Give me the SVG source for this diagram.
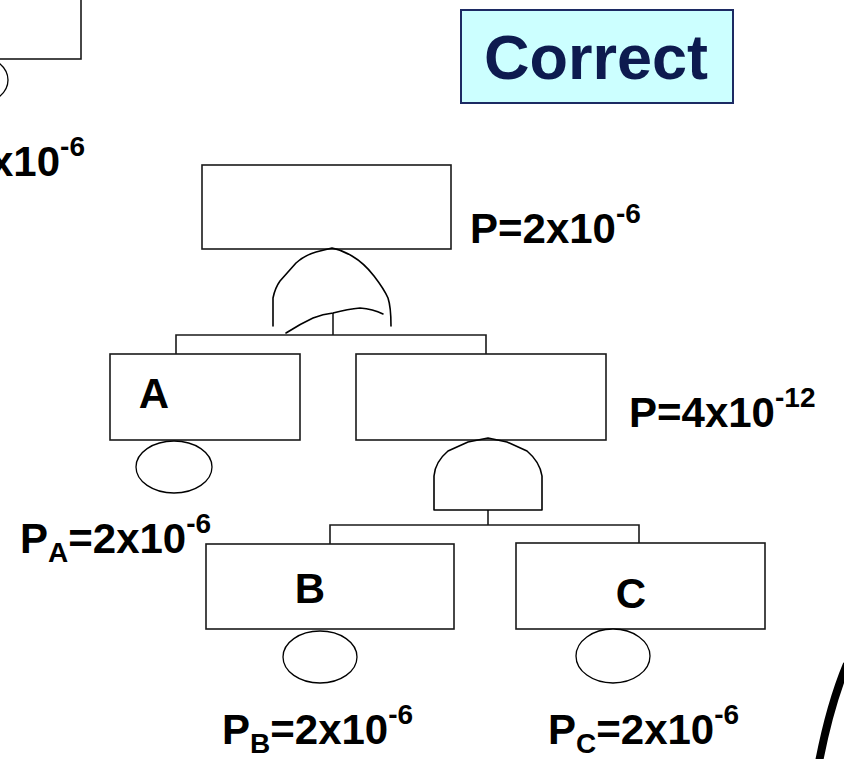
<svg xmlns="http://www.w3.org/2000/svg" width="844" height="759" viewBox="0 0 844 759">
  <style>
    .box { fill: #ffffff; stroke: #1a1a1a; stroke-width: 1.6; }
    .ev { fill: #ffffff; stroke: #000000; stroke-width: 1.3; }
    .gate { fill: none; stroke: #000000; stroke-width: 1.6; stroke-linejoin: round; stroke-linecap: round; }
    .conn { fill: none; stroke: #1a1a1a; stroke-width: 1.6; }
    .lbl { font-family: "Liberation Sans", Arial, sans-serif; font-weight: bold; font-size: 42px; fill: #000000; }
    .sm { font-size: 28px; }
  </style>
  <rect width="844" height="759" fill="#ffffff"/>

  <g id="partial-left">
    <rect class="box" x="-10" y="-10" width="91" height="69"/>
    <ellipse class="ev" cx="-29" cy="80" rx="37" ry="26"/>
    <text class="lbl" x="-10" y="176">x10<tspan class="sm" dy="-20">-6</tspan></text>
  </g>

  <g id="correct">
    <rect x="461" y="10" width="272" height="93" fill="#ccffff" stroke="#1c2a63" stroke-width="2"/>
    <text x="596" y="79" text-anchor="middle" font-family="Liberation Sans, Arial, sans-serif" font-weight="bold" font-size="63" fill="#0d1b4f">Correct</text>
  </g>

  <g id="connectors">
    <polyline class="conn" points="176,354 176,335 486,335 486,354"/>
    <line class="conn" x1="333" y1="313" x2="333" y2="335"/>
    <polyline class="conn" points="330,544 330,525 639,525 639,543"/>
    <line class="conn" x1="488" y1="510" x2="488" y2="525"/>
  </g>

  <g id="top-event">
    <rect class="box" x="202" y="165" width="249" height="84"/>
    <text class="lbl" x="470" y="243">P=2x10<tspan class="sm" dy="-20">-6</tspan></text>
  </g>

  <g id="or-gate">
    <path class="gate" d="M273,326 L273,298 Q275,288 280,281 L296,263 Q305,255 316,252 L332,248 Q342,250 352,256 Q364,263 374,276 Q384,289 388,298 Q391,307 391,326"/>
    <path class="gate" d="M286,333 Q300,324 313,318 Q323,314 333,313 Q348,309 360,308 Q373,309 383,314"/>
  </g>

  <g id="event-a">
    <rect class="box" x="110" y="354" width="190" height="86"/>
    <text class="lbl" x="154" y="408" text-anchor="middle">A</text>
    <ellipse class="ev" cx="174" cy="467" rx="38" ry="26"/>
    <text class="lbl" x="20" y="553">P<tspan class="sm" dy="9">A</tspan><tspan dy="-9">=2x10</tspan><tspan class="sm" dy="-20">-6</tspan></text>
  </g>

  <g id="intermediate">
    <rect class="box" x="356" y="354" width="250" height="86"/>
    <text class="lbl" x="629" y="427">P=4x10<tspan class="sm" dy="-20">-12</tspan></text>
  </g>

  <g id="and-gate">
    <path class="gate" d="M434,510 L434,476 Q435,462 448,451 L468,442 L488,438 L507,442 L527,451 Q540,462 542,476 L542,510 Z"/>
  </g>

  <g id="event-b">
    <rect class="box" x="206" y="544" width="248" height="85"/>
    <text class="lbl" x="310" y="603" text-anchor="middle">B</text>
    <ellipse class="ev" cx="320" cy="657" rx="37" ry="26"/>
    <text class="lbl" x="222" y="744">P<tspan class="sm" dy="9">B</tspan><tspan dy="-9">=2x10</tspan><tspan class="sm" dy="-20">-6</tspan></text>
  </g>

  <g id="event-c">
    <rect class="box" x="516" y="543" width="249" height="86"/>
    <text class="lbl" x="631" y="608" text-anchor="middle">C</text>
    <ellipse class="ev" cx="613" cy="656" rx="37" ry="27"/>
    <text class="lbl" x="548" y="744">P<tspan class="sm" dy="9">C</tspan><tspan dy="-9">=2x10</tspan><tspan class="sm" dy="-20">-6</tspan></text>
  </g>

  <g id="edge-arc">
    <path d="M847,664 Q830,705 819,762" fill="none" stroke="#000000" stroke-width="8"/>
  </g>
</svg>
